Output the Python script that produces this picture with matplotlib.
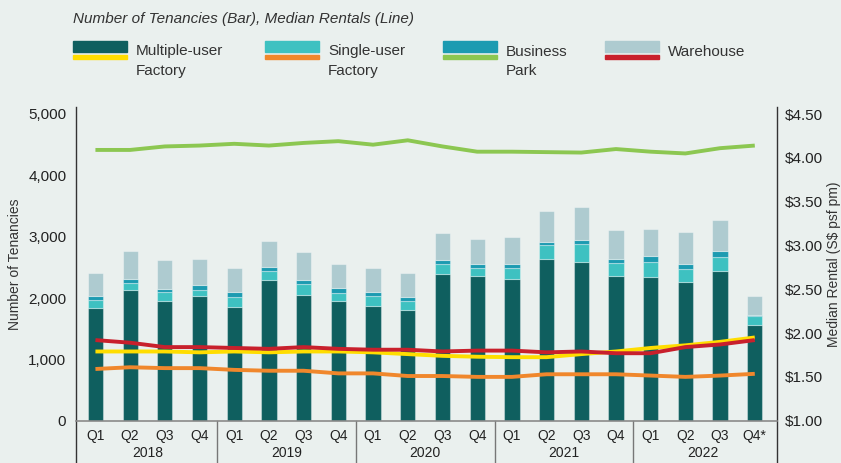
import numpy as np
import matplotlib
matplotlib.use('Agg')
import matplotlib.pyplot as plt
from matplotlib.patches import Rectangle

plt.rcParams['font.family'] = ['Liberation Sans', 'DejaVu Sans']

# ---- data ----
quarters = ['Q1', 'Q2', 'Q3', 'Q4'] * 4 + ['Q1', 'Q2', 'Q3', 'Q4*']
years = ['2018', '2019', '2020', '2021', '2022']

# number of tenancies (stacked bars)
multi_user = [1836, 2124, 1956, 2026, 1846, 2299, 2054, 1956, 1863, 1797,
              2392, 2353, 2304, 2631, 2582, 2353, 2337, 2261, 2435, 1559]
single_user = [136, 126, 136, 110, 175, 147, 168, 131, 174, 159,
               168, 137, 186, 240, 305, 224, 256, 218, 240, 140]
business = [65, 60, 60, 81, 82, 65, 66, 81, 66, 65,
            66, 59, 59, 49, 66, 65, 98, 70, 86, 23]
warehouse = [371, 451, 462, 414, 381, 425, 464, 392, 392, 387,
             441, 420, 447, 502, 527, 469, 436, 534, 514, 304]

# median rentals (S$ psf pm)
rent_multi = [1.79, 1.79, 1.79, 1.78, 1.79, 1.78, 1.79, 1.79, 1.78, 1.76,
              1.74, 1.73, 1.725, 1.725, 1.76, 1.79, 1.83, 1.86, 1.90, 1.95]
rent_single = [1.59, 1.61, 1.60, 1.60, 1.58, 1.57, 1.57, 1.54, 1.54, 1.51,
               1.51, 1.50, 1.50, 1.53, 1.53, 1.53, 1.515, 1.50, 1.515, 1.535]
rent_business = [4.09, 4.09, 4.13, 4.14, 4.16, 4.14, 4.17, 4.19, 4.15, 4.20,
                 4.13, 4.07, 4.07, 4.065, 4.06, 4.10, 4.07, 4.05, 4.11, 4.14]
rent_warehouse = [1.92, 1.89, 1.84, 1.84, 1.83, 1.82, 1.84, 1.82, 1.81, 1.81,
                  1.79, 1.80, 1.80, 1.78, 1.79, 1.77, 1.77, 1.84, 1.87, 1.92]

bg = '#eaf0ee'
bar_cols = ['#0f5f5f', '#3ec1c1', '#1c9bb1', '#aecbd0']
line_cols = ['#ffdd00', '#f0872c', '#8cc751', '#c8202c']
names = [('Multiple-user', 'Factory'), ('Single-user', 'Factory'),
         ('Business', 'Park'), ('Warehouse', '')]

fig = plt.figure(figsize=(8.41, 4.63), dpi=100, facecolor=bg)
ax = fig.add_axes([76 / 841, 42.3 / 463, 701 / 841, 313.7 / 463])
ax.set_facecolor(bg)
ax2 = ax.twinx()

x = np.arange(len(quarters))
bottom = np.zeros(len(x))
for vals, c in zip([multi_user, single_user, business, warehouse], bar_cols):
    ax.bar(x, vals, 0.44, bottom=bottom, color=c,
           edgecolor=(1, 1, 1, 0.35), linewidth=0.8, zorder=2)
    bottom += np.array(vals)

for vals, c in zip([rent_multi, rent_single, rent_business, rent_warehouse], line_cols):
    ax2.plot(x, vals, color=c, lw=2.8, solid_capstyle='butt', zorder=3)

ax.set_xlim(-0.56, 19.64)
ax.set_ylim(0, 5114)
ax2.set_ylim(1.0, 4.58)

ax.set_yticks(np.arange(0, 5001, 1000))
ax.set_yticklabels([f'{v:,}' for v in range(0, 5001, 1000)])
ax2.set_yticks(np.arange(1.0, 4.51, 0.5))
ax2.set_yticklabels([f'${v:.2f}' for v in np.arange(1.0, 4.51, 0.5)])
ax.set_xticks(x)
ax.set_xticklabels(quarters)

ax.tick_params(axis='y', length=0, pad=7, labelsize=11, labelcolor='#222222')
ax2.tick_params(axis='y', length=0, pad=6, labelsize=11, labelcolor='#222222')
ax.tick_params(axis='x', length=0, pad=6, labelsize=10, labelcolor='#222222')

for a in (ax, ax2):
    for s in a.spines.values():
        s.set_visible(False)

trans = ax.get_xaxis_transform()
# bottom axis line
ax.plot([0, 1], [0, 0], transform=ax.transAxes, color='#8a8a8a', lw=1.2,
        clip_on=False, zorder=4)
# side spines running to the bottom edge
ax.plot([0, 0], [-0.2, 1], transform=ax.transAxes, color='#333333', lw=1.0, clip_on=False)
ax.plot([1, 1], [-0.2, 1], transform=ax.transAxes, color='#333333', lw=1.0, clip_on=False)
# year separators and year labels
for i, yr in enumerate(years):
    if i > 0:
        ax.plot([4 * i - 0.5] * 2, [0, -0.2], transform=trans, color='#777777',
                lw=1.0, clip_on=False)
    ax.text(4 * i + 1.5, -0.103, yr, transform=trans, ha='center', va='center',
            fontsize=10, color='#222222')

mid_y = 0.5 * (1 - 107 / 463 + 42.3 / 463)
fig.text(15 / 841, mid_y, 'Number of Tenancies', rotation=90, ha='center',
         va='center', fontsize=10, color='#333333')
fig.text(834 / 841, mid_y, 'Median Rental (S$ psf pm)', rotation=90,
         ha='center', va='center', fontsize=10, color='#333333')

# title and legend
fig.text(73 / 841, 1 - 19 / 463, 'Number of Tenancies (Bar), Median Rentals (Line)',
         fontsize=11, style='italic', color='#333333', va='center')
sw_x = [73, 265, 443, 605]
for sx, bc, lc, (l1, l2) in zip(sw_x, bar_cols, line_cols, names):
    fig.patches.append(Rectangle((sx / 841, 1 - 52 / 463), 54 / 841, 11 / 463,
                                 transform=fig.transFigure, color=bc))
    fig.patches.append(Rectangle((sx / 841, 1 - 59 / 463), 54 / 841, 4 / 463,
                                 transform=fig.transFigure, color=lc))
    fig.text((sx + 63) / 841, 1 - 55.5 / 463, l1, fontsize=11, color='#333333', va='baseline')
    if l2:
        fig.text((sx + 63) / 841, 1 - 75 / 463, l2, fontsize=11, color='#333333', va='baseline')

fig.savefig('out.png', dpi=100, facecolor=bg)
